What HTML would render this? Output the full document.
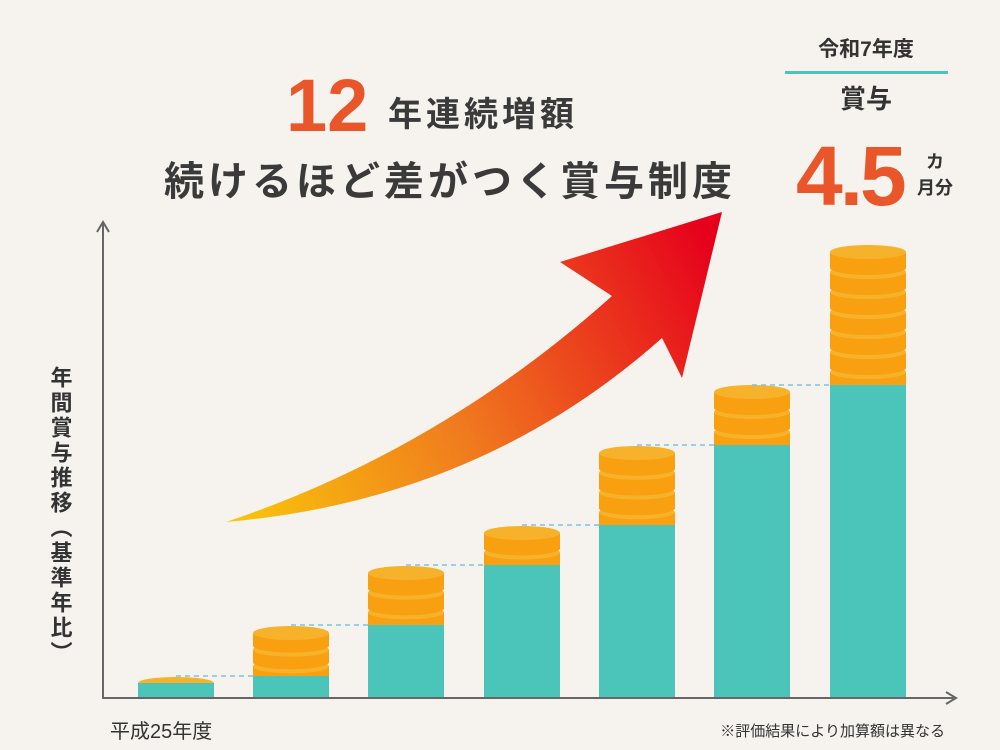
<!DOCTYPE html>
<html><head><meta charset="utf-8"><style>
body{margin:0;background:#f6f3ee;}
svg{display:block}
text{font-family:"Liberation Sans","Noto Sans CJK JP",sans-serif;}
</style></head><body>
<svg id="s" width="1000" height="750" viewBox="0 0 1000 750" xmlns="http://www.w3.org/2000/svg">
<defs>
<linearGradient id="g" x1="226" y1="522" x2="722" y2="260" gradientUnits="userSpaceOnUse">
<stop offset="0" stop-color="#f9c80a"/><stop offset="0.45" stop-color="#f07a1e"/><stop offset="1" stop-color="#e6001c"/>
</linearGradient>
</defs>
<rect width="1000" height="750" fill="#f6f3ee"/>
<path d="M226,522 Q480,500 662,338 L682,378 L722,212 L560,262 L612,296 Q440,450 226,522 Z" fill="url(#g)"/>
<g id="bars"></g>
<g stroke="#666" stroke-width="2" fill="none">
<path d="M103,224 V698 H955"/>
<path d="M97,232 L103,222 L109,232"/>
<path d="M946,692 L956,698 L946,704"/>
</g>
<text x="286" y="131" font-size="74" font-weight="bold" fill="#e8562a">12</text>
<text x="388" y="126" font-size="34" font-weight="bold" fill="#3a3a3a" letter-spacing="4">年連続増額</text>
<text x="450" y="195" font-size="40" font-weight="bold" fill="#3a3a3a" text-anchor="middle" letter-spacing="4">続けるほど差がつく賞与制度</text>
<text x="866" y="56" font-size="21" font-weight="bold" fill="#333" text-anchor="middle">令和7年度</text>
<rect x="785" y="71" width="163" height="3" fill="#4cc4bb"/>
<text x="866" y="108" font-size="26" font-weight="bold" fill="#333" text-anchor="middle">賞与</text>
<text x="796" y="205" font-size="84" font-weight="bold" fill="#e8562a" letter-spacing="-3">4.5</text>
<text x="935" y="168" font-size="18" font-weight="bold" fill="#333" text-anchor="middle">カ</text>
<text x="935" y="194" font-size="18" font-weight="bold" fill="#333" text-anchor="middle">月分</text>
<text font-size="22" font-weight="bold" fill="#333" writing-mode="tb" x="60" y="366" letter-spacing="3">年間賞与推移（基準年比）</text>
<text x="110" y="738" font-size="20" fill="#333">平成25年度</text>
<text x="945" y="736" font-size="15" fill="#333" text-anchor="end">※評価結果により加算額は異なる</text>
</svg>
<script>
(function(){
var xs=[138,253,368,484,599,714,830],teal=[683,676,625,565,525,445,385],tp=[677,626,566,526,446,385,245];
var gEl=document.getElementById('bars'),h='';
for(var i=0;i<7;i++){
 var x=xs[i],w=76,cx=x+38;
 if(i>0){h+='<line x1="'+(xs[i-1]+38)+'" y1="'+teal[i]+'" x2="'+(x+w)+'" y2="'+teal[i]+'" stroke="#7ec3df" stroke-width="1.5" stroke-dasharray="5,4"/>';}
 h+='<rect x="'+x+'" y="'+teal[i]+'" width="'+w+'" height="'+(698-teal[i])+'" fill="#4bc4b9"/>';
 if(i==0){h+='<path d="M'+x+','+teal[0]+' A38,6 0 0 1 '+(x+w)+','+teal[0]+' Z" fill="#f7b22c"/>';continue;}
 var bot=teal[i],tt=tp[i],ry=7;
 var n=Math.max(1,Math.round((bot-tt)/20));var step=(bot-tt)/n;
 for(var k=0;k<n;k++){
  var ty=bot-step*(k+1);
  if(k==0){
   h+='<rect x="'+x+'" y="'+(ty+ry)+'" width="'+w+'" height="'+(bot-ty-ry)+'" fill="#f8a010"/>';
  }else{
   var be=ty+step+3;
   h+='<rect x="'+x+'" y="'+(ty+ry)+'" width="'+w+'" height="'+(be-ty-ry)+'" fill="#f8a010"/>';
   h+='<ellipse cx="'+cx+'" cy="'+be+'" rx="38" ry="'+ry+'" fill="#f8a010"/>';
  }
  h+='<ellipse cx="'+cx+'" cy="'+(ty+ry)+'" rx="38" ry="'+ry+'" fill="#f7b22c"/>';
 }
}
gEl.innerHTML=h;
})();
</script>
</body></html>
